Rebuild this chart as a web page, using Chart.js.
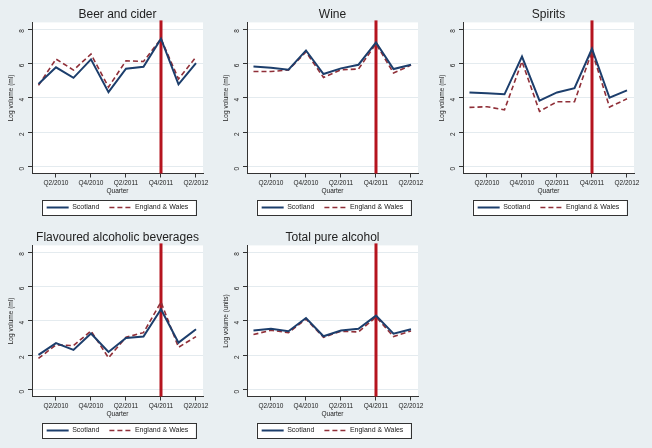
<!DOCTYPE html>
<html>
<head>
<meta charset="utf-8">
<script src="https://cdn.jsdelivr.net/npm/chart.js@4"></script>
<style>
body { margin:0; background:#e9eff2; width:652px; height:448px; position:relative; overflow:hidden; }
canvas { position:absolute; }
</style>
</head>
<body>
<canvas id="c0" width="217" height="224" style="left:0;top:0"></canvas>
<canvas id="c1" width="217" height="224" style="left:215px;top:0"></canvas>
<canvas id="c2" width="217" height="224" style="left:431px;top:0"></canvas>
<canvas id="c3" width="217" height="224" style="left:0;top:223px"></canvas>
<canvas id="c4" width="217" height="224" style="left:215px;top:223px"></canvas>
<script>
// quarters Q1/2010 .. Q2/2012, labelled every other one
const quarters = ['Q1/2010','Q2/2010','Q3/2010','Q4/2010','Q1/2011','Q2/2011','Q3/2011','Q4/2011','Q1/2012','Q2/2012'];
const tickQuarters = [1, 3, 5, 7, 9];
const yTicks = [0, 2, 4, 6, 8];
const interventionQuarter = 7; // Q4/2011

const panelTitles = ['Beer and cider', 'Wine', 'Spirits', 'Flavoured alcoholic beverages', 'Total pure alcohol'];
const yTitles = ['Log volume (ml)', 'Log volume (ml)', 'Log volume (ml)', 'Log volume (ml)', 'Log volume (units)'];
const seriesNames = ['Scotland', 'England & Wales'];

const beerScotland = [4.81, 5.78, 5.17, 6.24, 4.34, 5.70, 5.81, 7.44, 4.79, 6.03];
const beerEngWales = [4.73, 6.26, 5.62, 6.55, 4.63, 6.16, 6.12, 7.44, 5.10, 6.38];
const wineScotland = [5.83, 5.76, 5.64, 6.76, 5.39, 5.72, 5.93, 7.23, 5.68, 5.93];
const wineEngWales = [5.54, 5.54, 5.62, 6.67, 5.19, 5.64, 5.68, 7.15, 5.45, 5.91];
const spiritsScotland = [4.32, 4.27, 4.21, 6.40, 3.84, 4.32, 4.57, 6.86, 4.01, 4.44];
const spiritsEngWales = [3.45, 3.49, 3.31, 6.12, 3.22, 3.78, 3.78, 6.71, 3.47, 3.95];
const fabScotland = [2.03, 2.71, 2.32, 3.27, 2.20, 3.01, 3.09, 4.68, 2.74, 3.52];
const fabEngWales = [1.82, 2.61, 2.57, 3.42, 1.86, 3.05, 3.32, 5.10, 2.47, 3.09];
const totalScotland = [3.44, 3.54, 3.40, 4.17, 3.11, 3.44, 3.54, 4.31, 3.26, 3.52];
const totalEngWales = [3.21, 3.46, 3.32, 4.11, 3.05, 3.40, 3.36, 4.23, 3.09, 3.42];

const panelData = [
  [beerScotland, beerEngWales],
  [wineScotland, wineEngWales],
  [spiritsScotland, spiritsEngWales],
  [fabScotland, fabEngWales],
  [totalScotland, totalEngWales]
];

const FONT = '"Liberation Sans", Arial, sans-serif';
const TXT = '#222';
const AXIS = '#333';

// white plot region, legend frame, red intervention line
const panelDecor = {
  id: 'panelDecor',
  beforeDraw(chart) {
    const { ctx, chartArea: a, legend } = chart;
    ctx.save();
    ctx.fillStyle = '#fff';
    ctx.fillRect(a.left, a.top, a.right - a.left, a.bottom - a.top);
    const hb = legend.legendHitBoxes;
    if (hb && hb.length) {
      const l = Math.min(...hb.map(b => b.left)) - 5;
      const r = Math.max(...hb.map(b => b.left + b.width)) + 7;
      const cy = hb[0].top + hb[0].height / 2;
      ctx.fillRect(l, cy - 7.5, r - l, 15);
      ctx.strokeStyle = AXIS;
      ctx.lineWidth = 1;
      ctx.strokeRect(Math.round(l) + 0.5, Math.round(cy - 7.5) + 0.5, Math.round(r - l), 15);
    }
    ctx.restore();
  },
  beforeDatasetsDraw(chart) {
    const { ctx, chartArea: a, scales } = chart;
    const x = scales.x.getPixelForValue(interventionQuarter);
    ctx.save();
    ctx.strokeStyle = '#b5141f';
    ctx.lineWidth = 3;
    ctx.beginPath();
    ctx.moveTo(x, a.top - 2);
    ctx.lineTo(x, a.bottom);
    ctx.stroke();
    ctx.restore();
  }
};

// legend samples take the dataset's dash and width
function legendLabels(chart) {
  return Chart.defaults.plugins.legend.labels.generateLabels(chart).map(item => {
    const ds = chart.data.datasets[item.datasetIndex];
    return { ...item, lineDash: ds.borderDash || [], lineWidth: ds.borderWidth, strokeStyle: ds.borderColor };
  });
}

function makePanel(i) {
  const [scot, ew] = panelData[i];
  new Chart(document.getElementById('c' + i), {
    type: 'line',
    data: {
      datasets: [
        { label: seriesNames[0], data: scot.map((v, k) => ({ x: k, y: v })),
          borderColor: '#1c3e6c', backgroundColor: '#1c3e6c', borderWidth: 2,
          pointRadius: 0, pointStyle: 'line', tension: 0 },
        { label: seriesNames[1], data: ew.map((v, k) => ({ x: k, y: v })),
          borderColor: '#902f38', backgroundColor: '#902f38', borderWidth: 1.6, borderDash: [5, 3],
          pointRadius: 0, pointStyle: 'line', tension: 0 }
      ]
    },
    options: {
      responsive: false,
      animation: false,
      devicePixelRatio: 1,
      layout: { padding: { top: 1, right: 14, bottom: 3, left: 0 } },
      plugins: {
        title: { display: true, text: panelTitles[i], fullSize: false, color: TXT,
                 font: { family: FONT, size: 12, weight: 'normal' }, padding: { top: 6, bottom: 1 } },
        legend: { position: 'bottom', fullSize: false,
                  labels: { usePointStyle: true, pointStyleWidth: 22, padding: 10, color: TXT,
                            font: { family: FONT, size: 7 }, generateLabels: legendLabels } },
        tooltip: { enabled: false }
      },
      scales: {
        x: {
          type: 'linear', min: -0.37, max: 9.4,
          afterBuildTicks: s => { s.ticks = tickQuarters.map(v => ({ value: v })); },
          afterFit: s => { s.height = 20.5; },
          grid: { drawOnChartArea: false, tickLength: 4, tickColor: AXIS },
          border: { color: AXIS },
          ticks: { color: TXT, font: { family: FONT, size: 6.5 }, padding: 2, maxRotation: 0, autoSkip: false,
                   callback: v => quarters[v] },
          title: { display: true, text: 'Quarter', color: TXT, font: { family: FONT, size: 6.5 },
                   padding: { top: 0, bottom: -1 } }
        },
        y: {
          min: -0.39, max: 8.39,
          afterBuildTicks: s => { s.ticks = yTicks.map(v => ({ value: v })); },
          afterFit: s => { s.width = 32; },
          grid: { color: '#e4ebef', tickColor: AXIS, tickLength: 4 },
          border: { color: AXIS },
          ticks: { color: TXT, font: { family: FONT, size: 6.5 }, padding: 6, minRotation: 90, maxRotation: 90 },
          title: { display: true, text: yTitles[i], color: TXT, font: { family: FONT, size: 6.5 },
                   padding: { top: 7.8, bottom: 0 } }
        }
      }
    },
    plugins: [panelDecor]
  });
}

for (let i = 0; i < panelTitles.length; i++) makePanel(i);
</script>
</body>
</html>
